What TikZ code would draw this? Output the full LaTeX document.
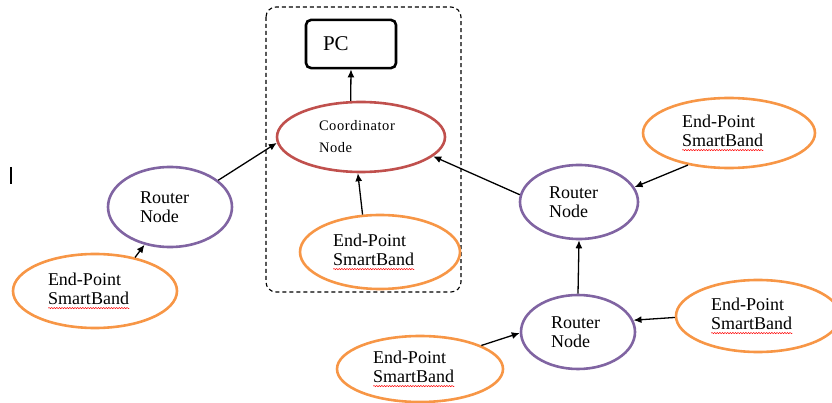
\documentclass[tikz,border=0pt]{standalone}
\usepackage{fontspec}
\setmainfont{Liberation Serif}
\newfontfamily\spacedfont[LetterSpace=4]{Liberation Serif}
\usetikzlibrary{shapes.geometric,arrows.meta,decorations.pathmorphing}

\definecolor{bandorange}{HTML}{F79646}
\definecolor{routerpurple}{HTML}{8064A2}
\definecolor{coordred}{HTML}{C0504D}

% red wavy line under the band name
\newsavebox\wavebox
\newcommand\spellwave[1]{\leavevmode\sbox\wavebox{#1}\rlap{\usebox\wavebox}%
  \tikz[baseline=0pt]\draw[red, line width=0.5pt, decorate,
    decoration={snake, amplitude=0.6pt, segment length=2.6pt}]
    (0pt,-3.5pt) -- (\wd\wavebox,-3.5pt);}

\begin{document}
\begin{tikzpicture}[x=1pt,y=-1pt,
    every node/.style={font=\fontsize{18}{19}\selectfont, align=left},
    band/.style={ellipse, draw=bandorange, line width=2.6pt, text width=94pt},
    router/.style={ellipse, draw=routerpurple, line width=2.6pt, text width=60pt},
    link/.style={-{Latex[length=8pt,width=7pt]}, line width=1.3pt}]
    \useasboundingbox (0,0) rectangle (832,403);

    % coordinator side
    \draw[dash pattern=on 4pt off 3pt, rounded corners=10pt, line width=1.1pt] (266,7) rectangle (461,292);
    \node[draw, line width=2.6pt, rounded corners=5pt, text width=56pt, inner sep=17pt,
          minimum height=45pt, font=\fontsize{21}{24}\selectfont] (pc) at (351,44) {PC};
    \node[ellipse, draw=coordred, line width=2.6pt, minimum width=168pt, minimum height=70pt,
          text width=84pt, font=\spacedfont\fontsize{14.5}{22}\selectfont] (coord) at (361,137) {Coordinator\\Node};
    \node[band, minimum width=160pt, minimum height=74pt] (ep2) at (380,252) {End-Point\\\spellwave{SmartBand}};

    % routers
    \node[router, minimum width=124pt, minimum height=80pt] (r1) at (170,207) {Router\\Node};
    \node[router, minimum width=118pt, minimum height=74pt] (r2) at (579,202) {Router\\Node};
    \node[router, minimum width=114pt, minimum height=74pt, text width=54pt] (r3) at (578,332) {Router\\Node};

    % end points
    \node[band, minimum width=164pt, minimum height=74pt] (ep1) at (95,291) {End-Point\\\spellwave{SmartBand}};
    \node[band, minimum width=172pt, minimum height=70pt] (ep3) at (729,133) {End-Point\\\spellwave{SmartBand}};
    \node[band, minimum width=164pt, minimum height=72pt] (ep4) at (758,316) {End-Point\\\spellwave{SmartBand}};
    \node[band, minimum width=166pt, minimum height=66pt] (ep5) at (420,369) {End-Point\\\spellwave{SmartBand}};

    \draw[line width=2.5pt] (11,167) -- (11,184);

    % links
    \draw[link] (coord.106) -- (pc.south);
    \draw[link] (ep2.115) -- (coord.265);
    \draw[link] (r1.29) -- (coord.184);
    \draw[link] (r2.173) -- (coord.345);
    \draw[link] (ep1.40) -- (r1.236);
    \draw[link] (ep3.218) -- (r2.15);
    \draw[link] (r3.north) -- (r2.south);
    \draw[link] (ep4.181) -- (r3.12);
    \draw[link] (ep5.21) -- (r3.181);
\end{tikzpicture}
\end{document}
